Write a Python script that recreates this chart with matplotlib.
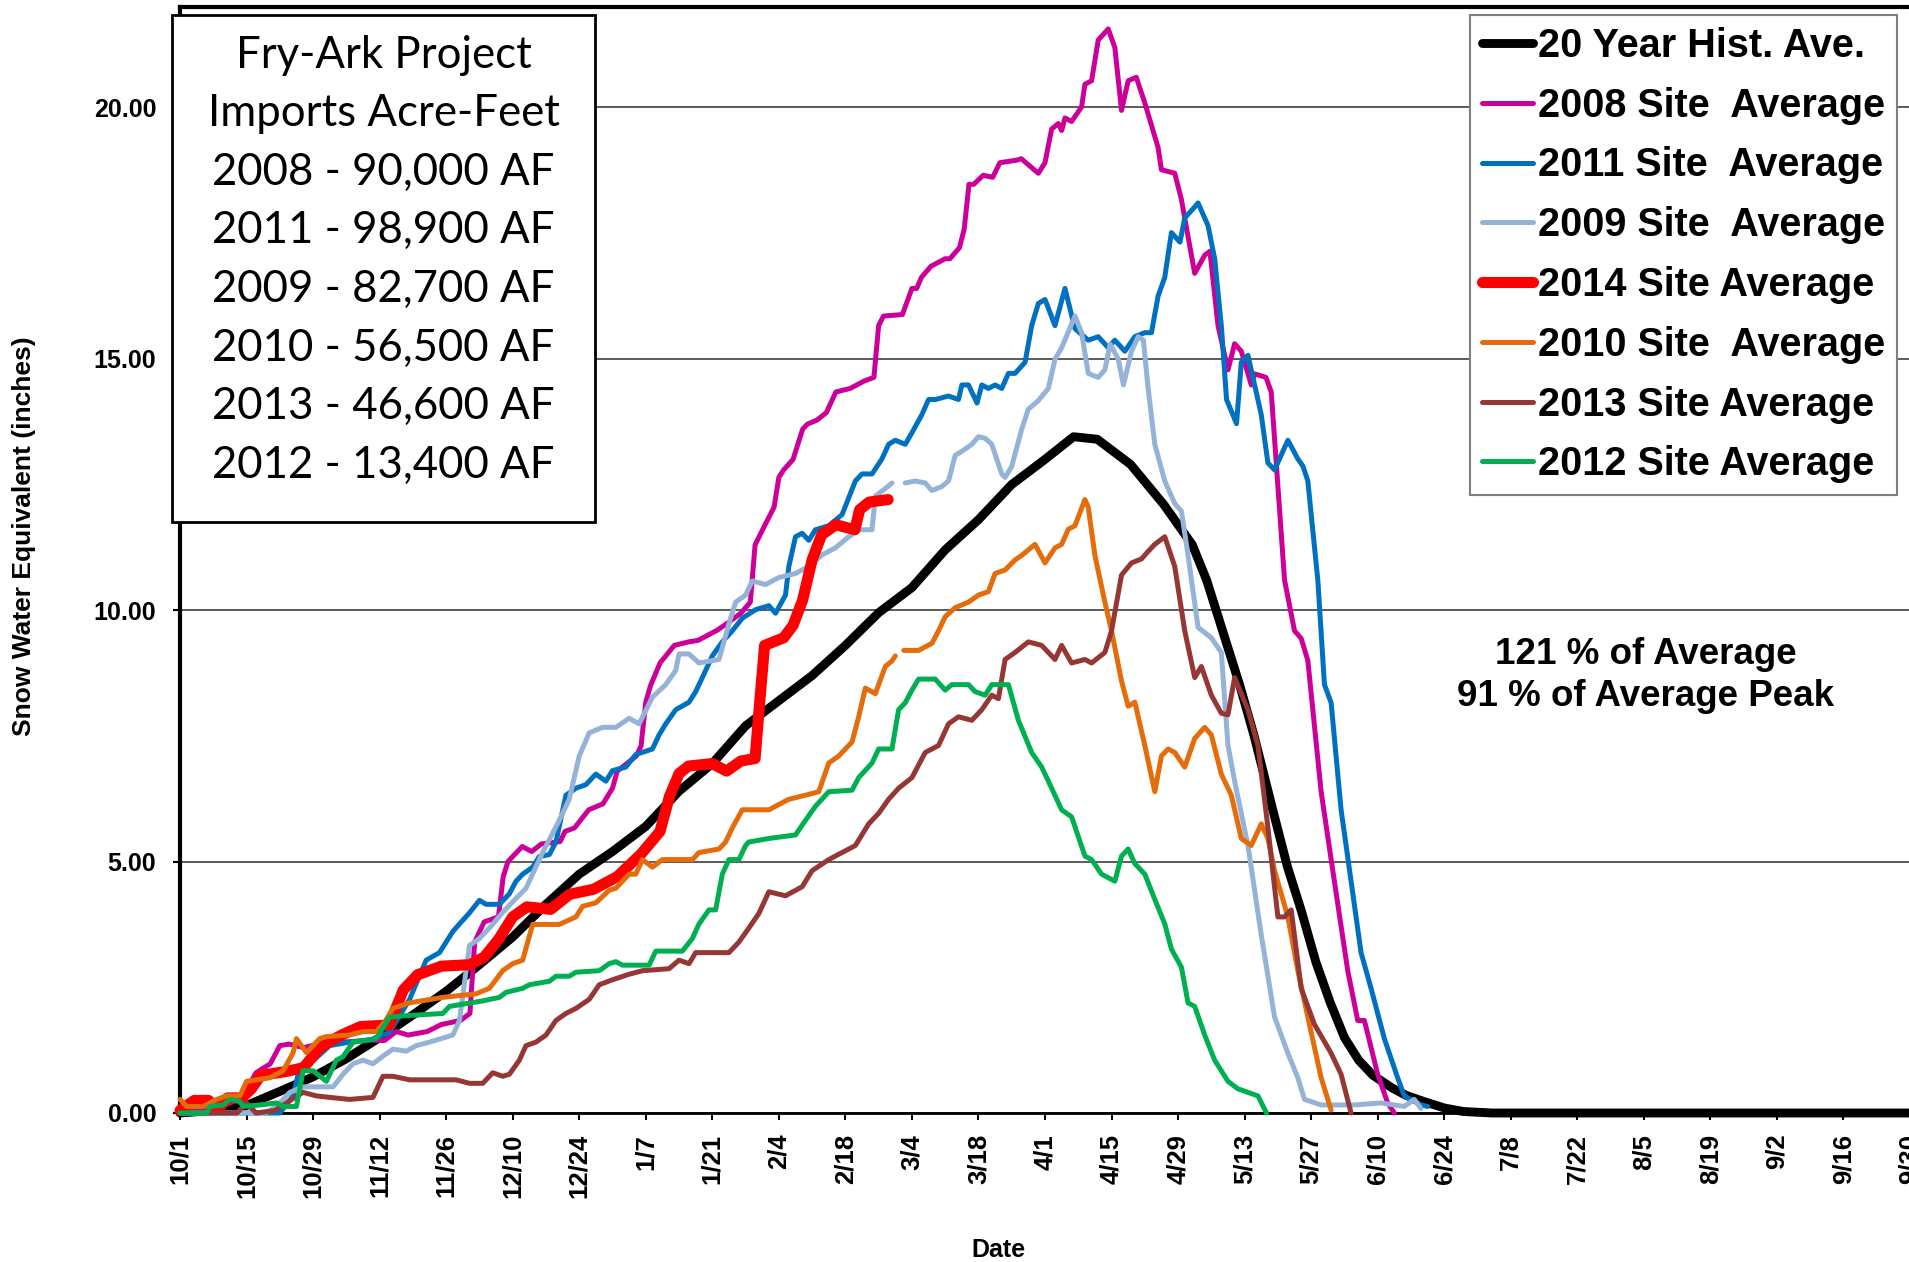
import datetime as dt

import matplotlib
matplotlib.use("Agg")
import matplotlib.pyplot as plt
import numpy as np
from matplotlib.patches import Rectangle

# days are counted from 10/1, values are snow water equivalent in inches
hist_day = [0, 7, 14, 21, 28, 35, 42, 49, 56, 63, 70, 77, 84, 91, 98, 105, 112, 119, 126, 133, 140,
            147, 154, 161, 168, 175, 182, 188, 193, 200, 207, 213, 216, 219, 223, 226, 230, 233, 236,
            239, 242, 245, 248, 251, 255, 258, 262, 266, 270, 276, 364]
hist_swe = [0.0, 0.05, 0.15, 0.43, 0.72, 1.08, 1.5, 1.95, 2.42, 2.95, 3.5, 4.15, 4.75, 5.2, 5.7, 6.4,
            6.95, 7.7, 8.2, 8.7, 9.3, 9.95, 10.45, 11.2, 11.8, 12.5, 13.0, 13.45, 13.4, 12.9, 12.1, 11.3,
            10.6, 9.7, 8.5, 7.5, 6.0, 4.9, 4.0, 3.0, 2.2, 1.5, 1.05, 0.75, 0.5, 0.35, 0.22, 0.1, 0.03,
            0.0, 0.0]

y2008_day = [0, 8, 13, 16, 19, 21, 23, 26, 29, 32, 36, 40, 43, 45.5, 48, 52, 55, 59, 61, 62, 64, 67,
             68, 69, 72, 74, 76, 80, 81, 83, 86, 89, 91, 92, 96, 97, 98, 99, 101, 104, 107, 109, 113,
             115, 118, 120, 121, 123, 125, 126, 127, 129, 131, 132, 134, 136, 138, 141, 144, 146, 147,
             148, 152, 154, 155, 156, 158, 161, 162, 164, 165, 166, 167, 169, 171, 172.5, 176, 177,
             180.6, 182, 183.4, 184.8, 185.5, 186.2, 187.6, 189.7, 190.4, 191.8, 193.2, 195.3, 196.7,
             198.1, 199.5, 201.2, 203, 205.8, 206.5, 209.3, 210.7, 212.1, 213.5, 215.6, 216.7, 218.4,
             220.5, 221.9, 223.3, 225.4, 226.1, 228.5, 229.6, 232.4, 234.5, 235.9, 237.3, 240.1, 242.9,
             245.7, 247.8, 249.2, 252, 254.1, 255.5]
y2008_swe = [0.0, 0.1, 0.3, 0.8, 0.98, 1.34, 1.37, 1.3, 1.37, 1.4, 1.42, 1.45, 1.44, 1.62, 1.55, 1.62,
             1.76, 1.84, 1.98, 3.4, 3.8, 3.9, 4.7, 5.0, 5.3, 5.2, 5.35, 5.4, 5.6, 5.67, 6.03, 6.15, 6.46,
             6.8, 7.1, 7.3, 8.17, 8.5, 8.95, 9.3, 9.37, 9.4, 9.6, 9.73, 9.94, 10.16, 11.3, 11.68, 12.05,
             12.64, 12.79, 13.0, 13.6, 13.7, 13.78, 13.93, 14.34, 14.41, 14.56, 14.63, 15.66, 15.85,
             15.88, 16.4, 16.4, 16.62, 16.84, 16.99, 16.99, 17.21, 17.58, 18.47, 18.47, 18.65, 18.61,
             18.9, 18.95, 18.98, 18.69, 18.9, 19.57, 19.68, 19.54, 19.79, 19.72, 20.01, 20.46, 20.53,
             21.34, 21.56, 21.19, 19.94, 20.53, 20.6, 20.09, 19.2, 18.76, 18.69, 18.17, 17.43, 16.7,
             17.06, 17.14, 15.66, 14.78, 15.3, 15.15, 14.48, 14.7, 14.63, 14.34, 10.6, 9.59, 9.44, 9.0,
             6.39, 4.6, 2.83, 1.84, 1.84, 0.77, 0.2, 0.0]

y2011_day = [0, 21, 23.8, 25.2, 27.3, 31.5, 35.7, 40, 44, 46, 48.3, 51.8, 54.6, 57.4, 58.8, 60.9, 63,
             64.4, 67.2, 69.3, 70.7, 72.1, 74.2, 75.6, 77.7, 79.1, 81.2, 83.3, 85.4, 87.5, 89.6, 91,
             93.8, 95.9, 99.4, 100.8, 102.2, 104.3, 107.1, 108.5, 109.9, 112, 114.1, 116.2, 118.3,
             121.1, 123.9, 125.3, 127.4, 128.1, 129.5, 130.9, 132.3, 133.7, 136.5, 139.3, 142.1, 143.5,
             145.6, 147.7, 149.1, 150.5, 152.6, 154, 156.1, 157.5, 158.9, 161.7, 163.8, 164.5, 165.9,
             167.7, 168.7, 170.1, 171.5, 172.9, 174.3, 175.7, 177.8, 179.2, 180.6, 182, 184.1, 186.2,
             188.3, 191.1, 193.2, 195.3, 196.7, 198.8, 200.9, 203, 204.4, 205.8, 207.2, 208.6, 210.4,
             211.4, 213.5, 214.2, 216.3, 217.7, 219.1, 220.2, 222.3, 223.3, 224.7, 226.1, 227.5, 228.9,
             230.3, 233.1, 235.2, 236.3, 237.3, 239.4, 240.8, 242.2, 244.3, 246.4, 248.5, 250.6, 253.4,
             256.2, 257.6, 261.1, 262.5]
y2011_swe = [0.0, 0.0, 0.34, 0.91, 0.98, 1.34, 1.41, 1.45, 1.6, 1.9, 2.26, 3.04, 3.19, 3.61, 3.76,
             3.98, 4.23, 4.15, 4.15, 4.36, 4.61, 4.75, 4.89, 5.1, 5.14, 5.39, 6.32, 6.46, 6.53, 6.74, 6.6,
             6.81, 6.88, 7.13, 7.24, 7.52, 7.74, 8.02, 8.17, 8.38, 8.66, 9.09, 9.37, 9.59, 9.84, 10.01,
             10.09, 9.94, 10.3, 10.87, 11.46, 11.53, 11.39, 11.6, 11.68, 11.9, 12.57, 12.71, 12.71, 13.01,
             13.3, 13.38, 13.3, 13.53, 13.89, 14.19, 14.19, 14.26, 14.19, 14.48, 14.48, 14.12, 14.48,
             14.41, 14.48, 14.41, 14.71, 14.71, 14.93, 15.66, 16.1, 16.18, 15.66, 16.4, 15.6, 15.37,
             15.44, 15.22, 15.37, 15.15, 15.44, 15.52, 15.52, 16.25, 16.62, 17.51, 17.32, 17.8, 18.02,
             18.1, 17.65, 16.99, 15.66, 14.19, 13.71, 14.93, 15.07, 14.48, 13.89, 12.93, 12.79, 13.38,
             13.01, 12.86, 12.57, 10.6, 8.52, 8.16, 6.03, 4.61, 3.19, 2.48, 1.48, 0.7, 0.34, 0.16, 0.13]

y2009_day = [0, 18, 20.3, 23.1, 25.9, 32.2, 34.3, 36.4, 38.5, 40.6, 42.7, 44.8, 47.6, 49.7, 52.5, 57.4,
             58.8, 60.9, 63, 65.1, 68, 70, 72.8, 76.3, 79.8, 81.9, 84, 86.1, 88.9, 91.7, 94.5, 96.6,
             99.4, 102.2, 104.3, 105, 107.1, 109.2, 113.4, 115.5, 116.9, 119, 120.4, 123.2, 126, 129.5,
             132.3, 135.1, 137.9, 140.7, 142.8, 145.6, 146.3, 148.4, 149.8, 151, 152.6, 154.7, 156.8,
             158.2, 160.3, 161.7, 163.1, 164.5, 166.6, 168, 169.4, 170.8, 172.9, 173.6, 175, 177.1,
             178.5, 180.6, 182.7, 184.1, 185.5, 188.3, 189.7, 191.1, 193.2, 194.6, 195.7, 197.4, 198.5,
             200.2, 201.6, 202.7, 203.7, 205.1, 207.2, 209.3, 210.7, 212.1, 214.2, 217, 219.1, 220.5,
             221.9, 224.7, 227.5, 230.3, 233.1, 235.2, 236.6, 240.1, 247.1, 252.7, 257.6, 259.7, 261.1]
y2009_swe = [0.0, 0.0, 0.13, 0.41, 0.52, 0.52, 0.77, 0.98, 1.05, 0.98, 1.13, 1.27, 1.23, 1.34, 1.41,
             1.55, 1.84, 3.33, 3.47, 3.68, 4.0, 4.2, 4.47, 5.18, 5.82, 6.24, 7.1, 7.56, 7.67, 7.67, 7.85,
             7.74, 8.27, 8.52, 8.8, 9.13, 9.13, 8.95, 9.02, 9.73, 10.16, 10.3, 10.58, 10.51, 10.65, 10.73,
             10.87, 11.1, 11.24, 11.46, 11.6, 11.6, 12.27, 12.42, 12.53, np.nan, 12.53, 12.57, 12.53,
             12.38, 12.46, 12.57, 13.08, 13.16, 13.3, 13.45, 13.42, 13.3, 12.71, 12.64, 12.86, 13.6,
             14.0, 14.17, 14.41, 14.99, 15.22, 15.85, 15.52, 14.71, 14.63, 14.78, 15.29, 15.0, 14.48,
             15.15, 15.44, 15.37, 14.41, 13.3, 12.57, 12.12, 11.97, 11.09, 9.66, 9.45, 9.16, 7.31, 6.6,
             5.32, 3.54, 1.91, 1.19, 0.7, 0.27, 0.16, 0.16, 0.2, 0.13, 0.27, 0.09]

y2014_day = [0, 3, 6, 8, 10, 13, 15, 17, 22, 26, 29, 31, 34, 38, 44, 47, 50, 55, 61, 64, 67, 70, 73, 78,
             82, 87, 92, 97, 101, 103, 105, 107, 112, 115, 118, 121, 122, 123, 127, 129, 131, 133, 135,
             138, 142, 143, 145, 149]
y2014_swe = [0.05, 0.25, 0.25, 0.08, 0.3, 0.3, 0.48, 0.75, 0.82, 0.9, 1.25, 1.4, 1.55, 1.72, 1.75, 2.45,
             2.75, 2.92, 2.95, 3.1, 3.45, 3.9, 4.1, 4.05, 4.35, 4.45, 4.7, 5.15, 5.6, 6.3, 6.75, 6.9, 6.95,
             6.8, 7.0, 7.05, 8.2, 9.3, 9.45, 9.7, 10.2, 11.0, 11.5, 11.7, 11.6, 12.0, 12.15, 12.2]

y2010_day = [0, 1.4, 4.9, 7.7, 9.8, 12.6, 14, 16.1, 18.9, 21.7, 23.8, 24.5, 26.6, 29.4, 30.8, 35.7,
             38.5, 41.3, 43, 44.8, 48.3, 55.3, 62.3, 65.1, 67.9, 70, 72.1, 74.2, 79.8, 83.3, 84.7, 87.5,
             90.3, 91.7, 94.5, 95.9, 97.3, 99.4, 101.5, 107.8, 109.2, 113.4, 114.8, 116.2, 118.3, 123.9,
             126.7, 128.1, 131.6, 134.4, 136.5, 138.6, 140, 141.4, 142.8, 144.2, 146.3, 148.4, 149.8,
             150.5, 151.4, 152.3, 155.4, 158.2, 159.6, 161, 163.1, 165.9, 168, 170.1, 171.5, 173.6,
             175.7, 177.1, 179.9, 182, 184.1, 185.5, 186.9, 188.3, 190.4, 191.1, 192.5, 194.6, 196,
             198.1, 199.5, 200.9, 203, 205.1, 206.5, 207.9, 209.3, 211.4, 213.5, 215.6, 217, 219.1,
             221.2, 223.3, 225.4, 227.5, 228.9, 230.3, 233.1, 235.2, 237.3, 240.1, 242.2]
y2010_swe = [0.27, 0.13, 0.13, 0.27, 0.34, 0.34, 0.63, 0.66, 0.7, 0.84, 1.2, 1.48, 1.2, 1.48, 1.52,
             1.55, 1.62, 1.62, 1.8, 2.08, 2.19, 2.3, 2.37, 2.48, 2.83, 2.97, 3.04, 3.75, 3.75, 3.9, 4.11,
             4.18, 4.43, 4.47, 4.75, 4.75, 5.04, 4.89, 5.04, 5.04, 5.18, 5.25, 5.39, 5.67, 6.03, 6.03,
             6.17, 6.24, 6.32, 6.39, 6.96, 7.1, 7.24, 7.38, 7.88, 8.45, 8.34, 8.88, 8.99, 9.09, np.nan,
             9.2, 9.2, 9.34, 9.59, 9.87, 10.05, 10.16, 10.3, 10.37, 10.73, 10.8, 11.0, 11.09, 11.31,
             10.94, 11.24, 11.31, 11.61, 11.68, 12.2, 12.05, 11.09, 10.16, 9.59, 8.59, 8.09, 8.17, 7.31,
             6.39, 7.1, 7.24, 7.17, 6.88, 7.45, 7.67, 7.52, 6.74, 6.32, 5.46, 5.32, 5.75, 5.46, 4.82, 3.9,
             2.83, 1.91, 0.7, 0.06]

y2013_day = [0, 12, 14, 16, 20, 24, 25.9, 28.7, 31.5, 35.7, 40.6, 42.7, 44.8, 48.3, 58.1, 60.9, 63.7,
             65.8, 67.9, 69.3, 71.4, 72.8, 74.9, 77, 79.1, 81.2, 83.3, 86.1, 88.2, 91, 94.5, 97.3, 102.9,
             105, 107.1, 108.5, 115.5, 117.6, 119.7, 121.8, 123.9, 127.4, 130.9, 133, 136.5, 139.3,
             142.1, 144.9, 147, 149.1, 151.2, 154, 156.8, 159.6, 161.7, 163.8, 166.6, 168.7, 170.8,
             172.2, 173.6, 175.7, 178.5, 181.3, 184.1, 185.5, 187.6, 190.4, 191.8, 194.6, 196, 198.1,
             200.2, 202.3, 203.7, 205.1, 207.2, 209.3, 211.4, 213.5, 214.9, 217, 219.1, 220.5, 221.9,
             224.7, 226.8, 228.9, 231, 232.4, 233.8, 235.9, 238.7, 242.2, 244.3, 246.4]
y2013_swe = [0.0, 0.0, 0.2, 0.0, 0.05, 0.3, 0.41, 0.34, 0.31, 0.27, 0.31, 0.73, 0.73, 0.66, 0.66, 0.59,
             0.59, 0.8, 0.73, 0.77, 1.05, 1.34, 1.41, 1.55, 1.84, 1.98, 2.08, 2.26, 2.55, 2.65, 2.76, 2.83,
             2.87, 3.04, 2.97, 3.19, 3.19, 3.4, 3.68, 3.97, 4.4, 4.32, 4.5, 4.82, 5.04, 5.18, 5.32, 5.75,
             5.96, 6.24, 6.46, 6.67, 7.17, 7.31, 7.74, 7.88, 7.81, 8.02, 8.31, 8.24, 9.02, 9.16, 9.37, 9.3,
             9.02, 9.3, 8.95, 9.02, 8.95, 9.16, 9.59, 10.7, 10.94, 11.02, 11.17, 11.31, 11.46, 10.87, 9.59,
             8.66, 8.88, 8.31, 7.95, 7.92, 8.66, 8.02, 7.31, 5.68, 3.9, 3.9, 4.04, 2.48, 1.76, 1.19, 0.77,
             0.0]

y2012_day = [0, 5.6, 6.3, 9.1, 10.5, 12.6, 13.3, 16.8, 20.3, 21.7, 24.5, 25.9, 28, 30.8, 32.9, 34.3,
             36.4, 38.5, 41.3, 44.1, 48.3, 55.3, 56.7, 63.7, 67.2, 68.6, 72.1, 73.5, 77.7, 79.1, 81.9,
             83.3, 88.2, 90.3, 91.7, 93.1, 98.7, 100.1, 105.7, 107.8, 109.2, 111.3, 112.7, 114.1, 115.5,
             117.6, 119, 119.7, 123.9, 129.5, 131.6, 133.7, 136.5, 141.4, 142.8, 145.6, 147, 149.8,
             151.2, 152.6, 154, 155.4, 158.9, 161, 162.4, 165.9, 167.3, 169.4, 170.8, 174.3, 176.4,
             179.2, 181.3, 183.4, 185.5, 187.6, 190.4, 191.8, 193.9, 196.7, 198.1, 199.5, 200.9, 203,
             205.1, 207.2, 208.6, 210.7, 212.1, 213.5, 215.6, 217.7, 220.5, 222.6, 224.7, 226.8, 228.6]
y2012_swe = [0.0, 0.0, 0.13, 0.16, 0.27, 0.23, 0.13, 0.16, 0.2, 0.13, 0.13, 0.84, 0.84, 0.63, 1.05, 1.12,
             1.41, 1.44, 1.48, 1.91, 1.94, 1.98, 2.12, 2.23, 2.3, 2.4, 2.48, 2.55, 2.62, 2.72, 2.72, 2.8,
             2.83, 2.97, 3.01, 2.94, 2.94, 3.22, 3.22, 3.47, 3.76, 4.04, 4.04, 4.75, 5.04, 5.04, 5.32,
             5.39, 5.46, 5.53, 5.82, 6.1, 6.39, 6.42, 6.67, 6.96, 7.24, 7.24, 8.02, 8.16, 8.41, 8.63, 8.63,
             8.41, 8.52, 8.52, 8.38, 8.31, 8.52, 8.52, 7.81, 7.17, 6.88, 6.46, 6.03, 5.89, 5.11, 5.04,
             4.75, 4.61, 5.11, 5.25, 4.96, 4.75, 4.25, 3.76, 3.26, 2.9, 2.19, 2.12, 1.55, 1.05, 0.63, 0.48,
             0.41, 0.34, 0.0]

series_labels = ["20 Year Hist. Ave.", "2008 Site  Average", "2011 Site  Average", "2009 Site  Average",
                 "2014 Site Average", "2010 Site  Average", "2013 Site Average", "2012 Site Average"]
series_colors = ["#000000", "#CC0099", "#0070C0", "#95B3D7", "#FF0000", "#E46C0A", "#953735", "#00B050"]
series_widths = [6.4, 3.6, 3.6, 3.6, 8.0, 3.6, 3.6, 3.6]

box_lines = ["Fry-Ark Project", "Imports Acre-Feet", "2008 - 90,000 AF", "2011 - 98,900 AF",
             "2009 - 82,700 AF", "2010 - 56,500 AF", "2013 - 46,600 AF", "2012 - 13,400 AF"]
note_lines = ["121 % of Average", "91 % of Average Peak"]

series = [(hist_day, hist_swe), (y2008_day, y2008_swe), (y2011_day, y2011_swe), (y2009_day, y2009_swe),
          (y2014_day, y2014_swe), (y2010_day, y2010_swe), (y2013_day, y2013_swe), (y2012_day, y2012_swe)]

tick_days = list(range(0, 365, 14))
start = dt.date(2013, 10, 1)
tick_labels = []
for d in tick_days:
    t = start + dt.timedelta(days=d)
    tick_labels.append(f"{t.month}/{t.day}")

W, H = 1909, 1262
fig = plt.figure(figsize=(W / 100, H / 100), dpi=100)
ax = fig.add_axes([180 / W, 1 - 1113 / H, 1730 / W, 22 * 50.28 / H])

bold = {"family": "Liberation Sans", "weight": "bold"}

for (x, y), lab, col, lw in zip(series, series_labels, series_colors, series_widths):
    ax.plot(x, y, color=col, lw=lw, label=lab, solid_capstyle="round", solid_joinstyle="round",
            clip_on=False, zorder=3)

ax.set_xlim(0, 364)
ax.set_ylim(0, 22)
ax.set_yticks([0, 5, 10, 15, 20])
ax.set_yticklabels([f"{v:.2f}" for v in [0, 5, 10, 15, 20]], fontdict=dict(bold, size=18))
ax.set_xticks(tick_days)
ax.set_xticklabels(tick_labels, rotation=90, ha="center", va="top", fontdict=dict(bold, size=18.5))
ax.tick_params(axis="y", direction="out", length=5, width=1.5, pad=12)
ax.tick_params(axis="x", direction="out", length=5, width=1.5, pad=10)
ax.yaxis.grid(True, color="#404040", lw=1.2)
ax.set_axisbelow(True)

for side in ["left", "top"]:
    ax.spines[side].set_linewidth(3)
ax.spines["right"].set_visible(False)
ax.spines["bottom"].set_linewidth(2)

leg = ax.legend(loc="upper right", bbox_to_anchor=(1897 / W, 1 - 15 / H), bbox_transform=fig.transFigure,
                borderaxespad=0, prop={"family": "Liberation Sans", "weight": "bold", "size": 28.5},
                handlelength=1.3, handletextpad=0.12, labelspacing=0.55, borderpad=0.3,
                fancybox=False, framealpha=1, edgecolor="#808080")
leg.get_frame().set_linewidth(1.5)
leg.set_zorder(10)

# text box with the imports
fig.patches.append(Rectangle((172 / W, 1 - 522 / H), 423 / W, 507 / H, transform=fig.transFigure,
                             facecolor="white", edgecolor="black", lw=2, zorder=20))
for i, line in enumerate(box_lines):
    fig.text(383.5 / W, 1 - (55 + i * 58.6) / H, line, ha="center", va="center", fontsize=31.5,
             family="Lato", zorder=21)

for i, line in enumerate(note_lines):
    fig.text(1646 / W, 1 - (654 + i * 42) / H, line, ha="center", va="center", fontsize=26.5,
             **bold)

fig.text(24 / W, 1 - 536 / H, "Snow Water Equivalent (inches)", rotation=90, ha="center", va="center",
         fontsize=19, **bold)
fig.text(998 / W, 1 - 1250 / H, "Date", ha="center", va="center", fontsize=18, **bold)

fig.savefig("out.png", dpi=100)
